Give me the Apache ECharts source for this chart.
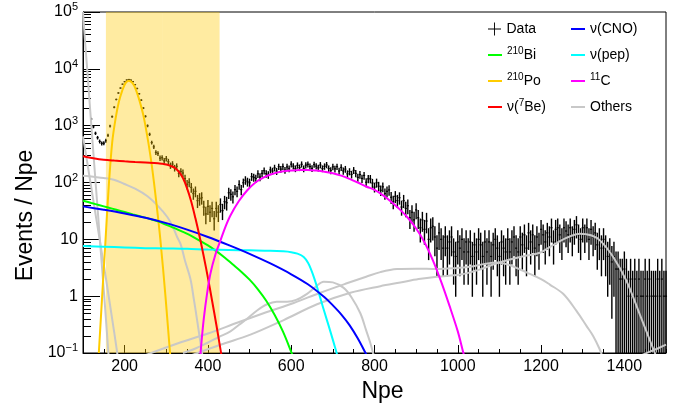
<!DOCTYPE html>
<html lang="en">
<head>
  <meta charset="utf-8">
  <title>Npe spectrum fit</title>
  <script src="https://cdn.jsdelivr.net/npm/echarts@6/dist/echarts.min.js"></script>
  <style>
    * { margin: 0; padding: 0; }
    html, body { background: #fff; }
    #chart { width: 684px; height: 408px; }
  </style>
</head>
<body>
  <div id="chart"></div>
  <script>
    // measured spectrum, one value every 5 Npe starting at 120 (events / Npe)
    const dataStart = 120;
    const dataStep = 5;
    const dataValues = [
      1310, 955, 735, 615, 528, 488, 492, 545, 676, 985,
      1440, 2110, 2890, 3760, 4590, 5370, 5940, 6360, 6490, 6330,
      5960, 5280, 4510, 3640, 2810, 2040, 1460, 995, 705, 505,
      424, 338, 324, 268, 273, 241, 263, 233, 199, 211,
      180, 192, 145, 156, 147, 117, 93, 101, 82, 64,
      70, 48, 52, 54, 37, 28, 38, 30, 35, 23,
      35, 30, 41, 32, 46, 44, 66, 62, 56, 75,
      70, 92, 75, 99, 110, 103, 99, 127, 123, 118,
      142, 125, 145, 161, 143, 137, 167, 159, 181, 158,
      190, 172, 191, 165, 188, 175, 210, 194, 176, 200,
      183, 209, 176, 202, 209, 191, 177, 207, 194, 181,
      203, 176, 192, 204, 176, 163, 189, 174, 190, 159,
      184, 160, 172, 142, 156, 139, 164, 145, 123, 138,
      118, 133, 101, 116, 116, 98, 83, 99, 86, 73,
      84, 64, 70, 74, 55, 46, 57, 48, 54, 37,
      48, 35, 39, 24, 30, 22, 33, 24, 16, 22,
      15, 21, 10, 16, 17, 11, 7, 13, 10, 7,
      11, 7, 9, 11, 6, 5, 9, 7, 10, 6,
      9, 6, 9, 5, 8, 6, 10, 8, 5, 9,
      6, 9, 5, 8, 10, 7, 5, 9, 7, 6,
      10, 6, 9, 11, 7, 6, 11, 8, 12, 7,
      13, 9, 12, 7, 11, 8, 15, 12, 9, 13,
      11, 16, 9, 15, 16, 12, 10, 16, 14, 12,
      16, 11, 15, 18, 12, 10, 16, 12, 16, 10,
      15, 11, 13, 8, 10, 7, 10, 7, 5, 6,
      4, 5, 3, 3, 2, 2, 3, 2, 1, 2,
      1, 2, 1, 2, 1, 1, 2, 1, 2, 1,
      1, 1, 2, 1, 2, 1, 1
    ];
    // each column stands for five 1-Npe bins: its bar spans their error bars
    const barScale = 1.8;

    // fit components [Npe, events/Npe]
    const bi210 = [[100,47.9],[120,43.6],[140,39.8],[160,36.3],[180,33.1],[200,30.2],[220,27.5],[240,25.1],[260,22.9],[280,20.7],[300,18.0],[320,15.7],[340,13.5],[360,11.5],[380,9.5],[400,7.8],[420,6.2],[440,4.8],[460,3.6],[480,2.7],[500,1.95],[520,1.32],[540,0.83],[560,0.47],[580,0.24],[600,0.105],[606,0.08]];
    const po210 = [[138,0.1],[146,1.0],[154,9.5],[162,90],[170,500],[178,1300],[186,2600],[194,4100],[202,5600],[210,6200],[218,5700],[226,4500],[236,2700],[246,1400],[258,450],[266,180],[276,45],[286,9.5],[298,1.0],[309,0.1],[312,0.06]];
    const be7 = [[100,290],[125,268],[150,252],[175,243],[200,236],[225,230],[250,225],[280,219],[290,214],[300,207],[310,196],[320,182],[330,155],[340,120],[350,79],[360,46],[370,23.4],[380,11.2],[390,5.0],[400,2.1],[410,0.83],[420,0.32],[430,0.117],[436,0.063]];
    const cno = [[100,38],[150,33.1],[200,28.5],[250,24],[300,19.3],[350,14.8],[400,11.0],[450,7.9],[500,5.56],[550,3.76],[600,2.43],[640,1.62],[680,0.955],[700,0.69],[720,0.48],[740,0.31],[760,0.18],[780,0.095],[785,0.08]];
    const pep = [[100,7.6],[150,7.4],[200,7.2],[250,7.0],[300,6.9],[350,6.8],[400,6.6],[450,6.5],[500,6.4],[550,6.3],[580,6.15],[600,5.95],[615,5.6],[630,4.9],[640,3.9],[648,2.9],[656,2.0],[664,1.3],[672,0.82],[680,0.52],[690,0.30],[700,0.17],[710,0.095],[716,0.068]];
    const c11 = [[380,0.06],[384,0.14],[390,0.4],[398,1.12],[406,2.5],[418,5.4],[430,9.5],[442,16.6],[454,26.3],[474,46.8],[494,72.4],[514,100],[534,123],[554,141],[574,155],[600,162],[620,166],[640,166],[660,162],[680,155],[700,145],[720,132],[740,116],[760,100],[780,85],[800,74],[820,60],[840,46],[860,34],[880,24],[900,15.5],[920,8.9],[940,4.3],[960,1.8],[980,0.68],[1000,0.24],[1012,0.11],[1016,0.085]];
    const pileUp = [[100,100000],[105,30000],[110,10000],[116,2500],[121,800],[126,260],[131,85],[136,28],[141,9],[146,3],[151,1],[156,0.32],[161,0.1],[164,0.06]];
    const c14 = [[100,650],[110,230],[120,80],[130,28],[140,10],[150,3.5],[160,1.2],[170,0.4],[180,0.13],[185,0.07]];
    const kr85 = [[100,132],[125,126],[150,120],[174,112],[198,95],[225,78],[254,58],[278,40],[302,25],[315,17],[326,11],[335,8],[345,4.2],[358,2.0],[366,0.9],[374,0.38],[381,0.17],[388,0.08]];
    const extTl = [[358,0.09],[430,0.14],[502,0.21],[582,0.38],[662,0.72],[742,1.15],[814,1.5],[862,1.74],[906,2.0],[950,2.2],[1006,2.4],[1050,2.9],[1094,3.8],[1140,4.7],[1166,5.2],[1197,5.8],[1230,8.0],[1262,10.7],[1294,12.6],[1320,11.8],[1342,9.5],[1374,4.8],[1405,1.86],[1437,0.48],[1469,0.12],[1482,0.07]];
    const extBi = [[247,0.09],[330,0.15],[400,0.22],[470,0.34],[540,0.52],[606,0.76],[670,1.15],[730,1.65],[780,2.2],[814,2.65],[854,3.0],[900,3.05],[950,3.0],[990,3.1],[1030,3.3],[1065,3.7],[1094,3.9],[1125,3.5],[1166,2.6],[1200,2.0],[1221,1.6],[1253,1.1],[1285,0.55],[1309,0.3],[1325,0.2],[1340,0.12],[1349,0.08]];
    const extK = [[340,0.1],[370,0.12],[398,0.15],[426,0.19],[454,0.24],[474,0.31],[494,0.4],[518,0.56],[542,0.72],[565,0.8],[590,0.8],[612,0.86],[638,1.1],[658,1.45],[678,1.8],[700,1.75],[726,1.4],[745,0.95],[766,0.5],[780,0.25],[790,0.15],[798,0.09]];
    const c10 = [[1425,0.075],[1440,0.09],[1460,0.105],[1480,0.12],[1500,0.14]];

    const xLabelValues = [200, 400, 600, 800, 1000, 1200, 1400];
    const yTicks = [0.1, 1, 10, 100, 1000, 10000, 100000];
    const yTickLabels = ['{b|10}{s|\u22121}', '{b|1}', '{b|10}', '{b|10}{s|2}', '{b|10}{s|3}', '{b|10}{s|4}', '{b|10}{s|5}'];
    const bandEdges = [155, 290, 428];

    const legendText = {
      'Data': 'Data',
      '210Bi': '{sup|210}Bi',
      '210Po': '{sup|210}Po',
      '7Be': '\u03bd({sup|7}Be)',
      'CNO': '\u03bd(CNO)',
      'pep': '\u03bd(pep)',
      '11C': '{sup|11}C',
      'Others': 'Others'
    };

    const font = 'Liberation Sans, Arial, Helvetica, sans-serif';

    // minor ticks of the log axis at 2..9 of every decade
    const yMinor = [];
    for (let p = -1; p < 5; p++) {
      for (let k = 2; k <= 9; k++) yMinor.push(k * Math.pow(10, p));
    }
    const xMinor = [];
    for (let v = 100; v <= 1500; v += 50) xMinor.push(v);

    const points = dataValues.map((v, i) => [dataStart + i * dataStep, v, barScale * Math.sqrt(v)]);

    const chart = echarts.init(document.getElementById('chart'), null, { renderer: 'canvas' });

    function errorBar(params, api) {
      const x = api.value(0);
      const y = api.value(1);
      const e = api.value(2);
      const cs = params.coordSys;
      const bottom = cs.y + cs.height;
      const top = api.coord([x, y + e]);
      const mid = api.coord([x, y]);
      const low = y - e > 0 ? Math.min(api.coord([x, y - e])[1], bottom) : bottom;
      const l = api.coord([x - dataStep / 2, y])[0];
      const r = api.coord([x + dataStep / 2, y])[0];
      return {
        type: 'group',
        children: [
          { type: 'line', shape: { x1: mid[0], y1: Math.max(top[1], cs.y), x2: mid[0], y2: low }, style: { stroke: '#000', lineWidth: 1.4 } },
          { type: 'line', shape: { x1: l, y1: mid[1], x2: r, y2: mid[1] }, style: { stroke: '#000', lineWidth: 1.2 } }
        ]
      };
    }

    function band(params, api) {
      const cs = params.coordSys;
      const a = api.coord([api.value(0), 1])[0];
      const b = api.coord([api.value(1), 1])[0];
      return {
        type: 'rect',
        shape: { x: a, y: cs.y, width: b - a, height: cs.height },
        style: { fill: 'rgba(255, 200, 0, 0.37)' }
      };
    }

    function curve(name, data, color) {
      return {
        name: name,
        type: 'line',
        data: data,
        smooth: 0.35,
        symbol: 'none',
        z: 4,
        color: color,
        lineStyle: { color: color, width: 2 },
        itemStyle: { color: color },
        emphasis: { disabled: true },
        animation: false
      };
    }

    const legendBase = {
      orient: 'vertical',
      padding: 0,
      itemWidth: 14,
      itemHeight: 2,
      icon: 'rect',
      itemGap: 8,
      selectedMode: false,
      formatter: name => legendText[name],
      textStyle: {
        fontFamily: font, fontSize: 14, color: '#000', lineHeight: 18,
        rich: { sup: { fontFamily: font, fontSize: 10, lineHeight: 11, verticalAlign: 'top', color: '#000' } }
      }
    };

    const option = {
      animation: false,
      backgroundColor: '#fff',
      grid: {
        left: 83, right: 18, top: 12, bottom: 55,
        show: true, borderColor: '#000', borderWidth: 1,
        containLabel: false
      },
      legend: [
        Object.assign({}, legendBase, {
          left: 488, top: 20, itemHeight: 13,
          data: [{ name: 'Data', icon: 'path://M0,6.5h14v1h-14zM6.5,0h1v14h-1z' }]
        }),
        Object.assign({}, legendBase, { left: 488, top: 46, data: ['210Bi', '210Po', '7Be'] }),
        Object.assign({}, legendBase, { left: 571, top: 20, data: ['CNO', 'pep', '11C', 'Others'] })
      ],
      xAxis: [{
        type: 'value', min: 100, max: 1500,
        name: 'Npe', nameLocation: 'middle', nameGap: 15,
        nameTextStyle: { fontFamily: font, fontSize: 23, color: '#000', padding: [0, 0, 0, 16] },
        axisLine: { lineStyle: { color: '#000', width: 1 } },
        axisTick: { inside: true, length: 4, customValues: xMinor, lineStyle: { color: '#000' } },
        axisLabel: { customValues: xLabelValues, formatter: v => String(v), fontFamily: font, fontSize: 16, color: '#000', margin: 6 },
        splitLine: { show: false }
      }, {
        type: 'value', min: 100, max: 1500, position: 'bottom',
        axisLine: { show: false },
        axisTick: { inside: true, length: 8, customValues: xLabelValues, lineStyle: { color: '#000' } },
        axisLabel: { show: false },
        splitLine: { show: false }
      }],
      yAxis: [{
        type: 'log', logBase: 10, min: 0.1, max: 100000,
        name: 'Events / Npe', nameLocation: 'middle', nameGap: 41, nameRotate: 90,
        nameTextStyle: { fontFamily: font, fontSize: 23, color: '#000', padding: [0, 66, 0, 0] },
        axisLine: { lineStyle: { color: '#000', width: 1 } },
        axisTick: { inside: true, length: 17, customValues: yTicks, lineStyle: { color: '#000' } },
        axisLabel: {
          customValues: yTicks, margin: 5,
          formatter: v => yTickLabels[Math.round(Math.log10(v)) + 1],
          rich: {
            b: { fontFamily: font, fontSize: 16, lineHeight: 21, color: '#000' },
            s: { fontFamily: font, fontSize: 11, lineHeight: 12, verticalAlign: 'top', color: '#000' }
          }
        },
        splitLine: { show: false }
      }, {
        type: 'log', logBase: 10, min: 0.1, max: 100000, position: 'left',
        axisLine: { show: false },
        axisTick: { inside: true, length: 8, customValues: yMinor, lineStyle: { color: '#000' } },
        axisLabel: { show: false },
        splitLine: { show: false }
      }],
      series: [
        {
          name: 'Data', type: 'custom', renderItem: errorBar, data: points, z: 2,
          color: '#000', itemStyle: { color: '#000' }, animation: false
        },
        {
          name: 'band', type: 'custom', renderItem: band, z: 3, silent: true,
          data: [[bandEdges[0], bandEdges[1]], [bandEdges[1], bandEdges[2]]]
        },
        curve('Others', pileUp, '#c8c8c8'),
        curve('Others', c14, '#c8c8c8'),
        curve('Others', kr85, '#c8c8c8'),
        curve('Others', extTl, '#c8c8c8'),
        curve('Others', extBi, '#c8c8c8'),
        curve('Others', extK, '#c8c8c8'),
        curve('Others', c10, '#c8c8c8'),
        curve('210Po', po210, '#ffcc00'),
        curve('210Bi', bi210, '#00ff00'),
        curve('pep', pep, '#00ffff'),
        curve('CNO', cno, '#0000ff'),
        curve('7Be', be7, '#ff0000'),
        curve('11C', c11, '#ff00ff')
      ]
    };

    chart.setOption(option);
  </script>
</body>
</html>
